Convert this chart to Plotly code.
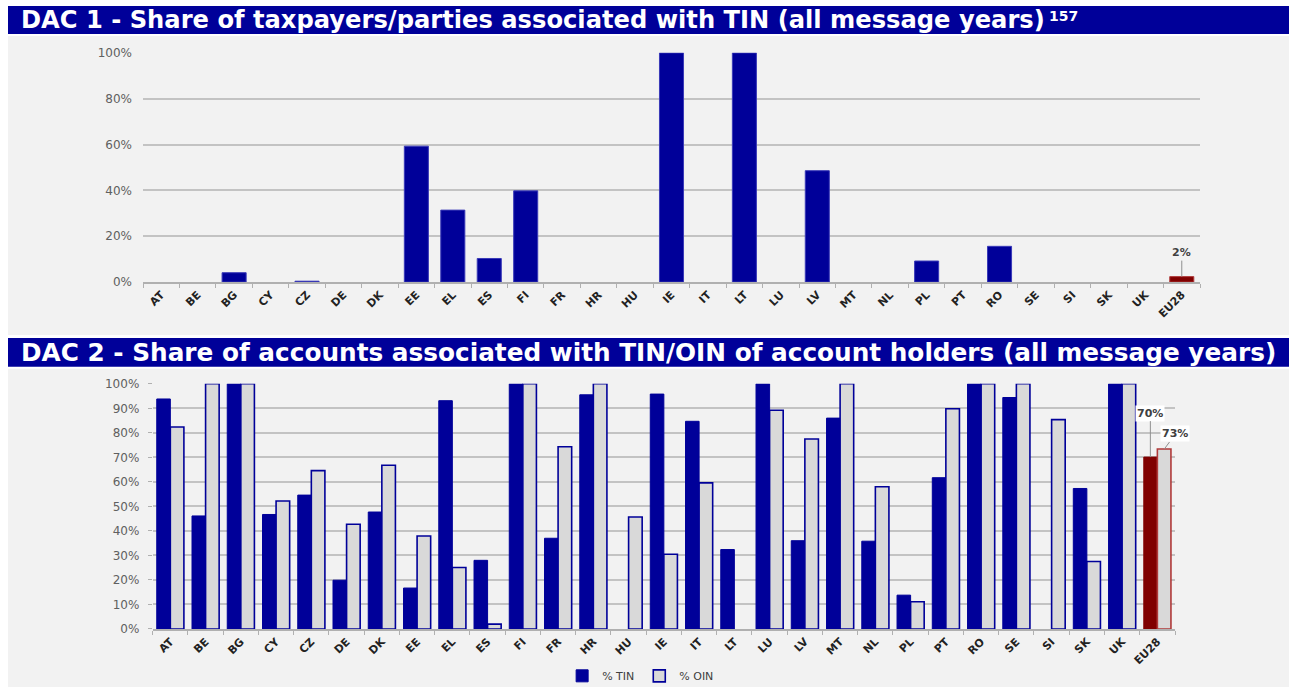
import plotly.graph_objects as go

countries = ["AT", "BE", "BG", "CY", "CZ", "DE", "DK", "EE", "EL", "ES", "FI", "FR", "HR", "HU",
             "IE", "IT", "LT", "LU", "LV", "MT", "NL", "PL", "PT", "RO", "SE", "SI", "SK", "UK", "EU28"]

dac1_tin = [0, 0, 4.1, 0, 0.4, 0, 0, 59.3, 31.4, 10.3, 39.8, 0, 0, 0,
            100, 0, 100, 0, 48.6, 0, 0, 9.2, 0, 15.6, 0, 0, 0, 0, 2.4]

dac2_tin = [93.8, 46.1, 100, 46.7, 54.6, 19.9, 47.7, 16.7, 93.1, 28.0, 100, 37.0, 95.5, 0,
            95.8, 84.7, 32.4, 100, 36.0, 86.0, 35.8, 13.8, 61.7, 100, 94.4, 0, 57.3, 100, 70.1]
dac2_oin = [82.4, 100, 100, 52.2, 64.6, 42.7, 66.8, 37.9, 25.1, 2.0, 100, 74.3, 100, 45.7,
            30.5, 59.6, 0, 89.2, 77.5, 100, 58.0, 11.1, 89.8, 100, 100, 85.4, 27.5, 100, 73.4]

title1 = "DAC 1 - Share of taxpayers/parties associated with TIN (all message years)"
title1_note = "157"
title2 = "DAC 2 - Share of accounts associated with TIN/OIN of account holders (all message years)"
eu_label1 = "2%"
eu_label2_tin = "70%"
eu_label2_oin = "73%"

BLUE = "#000099"
RED = "#800000"
RED_LINE = "#b03a3a"
GREY_FILL = "#d9d9d9"
BG = "#f2f2f2"
GRID = "#c3c3c3"

# target picture size and the vertical placement observed in the viewer
W = 1289
YOFF, YS = 6.0, 0.983
H = int(round((688 - YOFF) / YS))

def px(x):
    return x / W

def py(y):
    return 1 - ((y - YOFF) / YS) / H

n = len(countries)
col_tin = [BLUE] * (n - 1) + [RED]
col_tin_line1 = ["#3a3ab8"] * (n - 1) + [RED_LINE]
col_oin_line = [BLUE] * (n - 1) + [RED_LINE]

def lw(vals, w):
    return [w if v > 0 else 0 for v in vals]

fig = go.Figure()

fig.add_trace(go.Bar(x=countries, y=dac1_tin, width=0.66,
                     marker=dict(color=col_tin, line=dict(color=col_tin_line1, width=lw(dac1_tin, 1))),
                     xaxis="x", yaxis="y", showlegend=False, name="% TIN"))
fig.add_trace(go.Bar(x=countries, y=dac2_tin,
                     marker=dict(color=col_tin, line=dict(color=col_tin, width=lw(dac2_tin, 1))),
                     xaxis="x2", yaxis="y2", name="% TIN", offsetgroup="a"))
fig.add_trace(go.Bar(x=countries, y=dac2_oin,
                     marker=dict(color=GREY_FILL, line=dict(color=col_oin_line, width=lw(dac2_oin, 1.6))),
                     xaxis="x2", yaxis="y2", name="% OIN", offsetgroup="b"))

tickfont_x = dict(family="DejaVu Sans", size=11, color="#222222", weight="bold")
tickfont_y = dict(family="DejaVu Sans", size=12, color="#606060")

fig.update_layout(
    width=W, height=H, margin=dict(l=0, r=0, t=0, b=0),
    paper_bgcolor="white", plot_bgcolor=BG,
    barmode="group", bargap=0.23, bargroupgap=0.0,
    font=dict(family="DejaVu Sans"),
    xaxis=dict(domain=[px(143), px(1200)], anchor="y", type="category", range=[-0.5, n - 0.5],
               tickangle=-45, tickfont=tickfont_x, showline=True, linecolor="#b0b0b0", linewidth=2,
               ticks="outside", tickson="boundaries", ticklen=4, tickcolor="#b0b0b0", showgrid=False),
    yaxis=dict(domain=[py(282), py(52)], anchor="x", range=[0, 100], dtick=20, ticksuffix="%",
               tickfont=tickfont_y, gridcolor=GRID, gridwidth=2, zeroline=False, ticklabelstandoff=10),
    xaxis2=dict(domain=[px(152.7), px(1175)], anchor="y2", type="category", range=[-0.5, n - 0.5],
                tickangle=-45, tickfont=tickfont_x, showline=True, linecolor="#b0b0b0", linewidth=2,
                ticks="outside", tickson="boundaries", ticklen=4, tickcolor="#b0b0b0", showgrid=False),
    yaxis2=dict(domain=[py(630), py(384)], anchor="x2", range=[0, 100], dtick=10, ticksuffix="%",
                tickfont=tickfont_y, gridcolor=GRID, gridwidth=2, zeroline=False,
                ticks="outside", ticklen=4, tickcolor="#b0b0b0", ticklabelstandoff=6),
    legend=dict(orientation="h", x=0.497, xanchor="center", y=py(677), yanchor="middle",
                font=dict(family="DejaVu Sans", size=11, color="#404040"), bgcolor="rgba(0,0,0,0)",
                itemwidth=30, tracegroupgap=0),
)

shapes = [
    dict(type="rect", xref="paper", yref="paper", x0=px(8), x1=1, y0=py(335), y1=py(35),
         fillcolor=BG, line=dict(width=0), layer="below"),
    dict(type="rect", xref="paper", yref="paper", x0=px(8), x1=1, y0=0, y1=py(369),
         fillcolor=BG, line=dict(width=0), layer="below"),
    dict(type="rect", xref="paper", yref="paper", x0=px(8), x1=1, y0=py(33), y1=py(5),
         fillcolor=BLUE, line=dict(width=0), layer="below"),
    dict(type="rect", xref="paper", yref="paper", x0=px(8), x1=1, y0=py(367), y1=py(338),
         fillcolor=BLUE, line=dict(width=0), layer="below"),
]
fig.update_layout(shapes=shapes)

def hdr(size):
    return dict(family="DejaVu Sans", size=size, color="white", weight="bold")

annos = [
    dict(text=title1, xref="paper", yref="paper", x=px(19), y=py(19), xanchor="left", yanchor="middle",
         showarrow=False, font=hdr(24.2)),
    dict(text=title1_note, xref="paper", yref="paper", x=px(1047), y=py(15), xanchor="left", yanchor="middle",
         showarrow=False, font=hdr(14)),
    dict(text=title2, xref="paper", yref="paper", x=px(19), y=py(352.5), xanchor="left", yanchor="middle",
         showarrow=False, font=hdr(24.75)),
    dict(text="<b>" + eu_label1 + "</b>", xref="x", yref="y", x=countries[-1], y=dac1_tin[-1],
         showarrow=True, arrowhead=0, arrowcolor="#909090", arrowwidth=1, ax=0, ay=-24,
         font=dict(family="DejaVu Sans", size=11, color="#404040")),
    dict(text="<b>" + eu_label2_tin + "</b>", xref="x2", yref="y2", x=countries[-1], y=dac2_tin[-1],
         xshift=-7, showarrow=True, arrowhead=0, arrowcolor="#909090", arrowwidth=1, ax=0, ay=-44,
         bgcolor="white", font=dict(family="DejaVu Sans", size=11, color="#404040")),
    dict(text="<b>" + eu_label2_oin + "</b>", xref="x2", yref="y2", x=countries[-1], y=dac2_oin[-1],
         xshift=7, showarrow=True, arrowhead=0, arrowcolor="#909090", arrowwidth=1, ax=11, ay=-15,
         bgcolor="white", font=dict(family="DejaVu Sans", size=11, color="#404040")),
]
fig.update_layout(annotations=annos)

post = (
    "document.documentElement.style.margin='0';"
    "document.documentElement.style.overflow='hidden';"
    "document.body.style.margin='0';"
    "document.body.style.overflow='hidden';"
    "var d=document.querySelector('.plotly-graph-div');"
    "d.style.position='absolute';d.style.top='0px';d.style.left='0px';"
)
fig.write_html("out.html", config={"displayModeBar": False}, post_script=post)
